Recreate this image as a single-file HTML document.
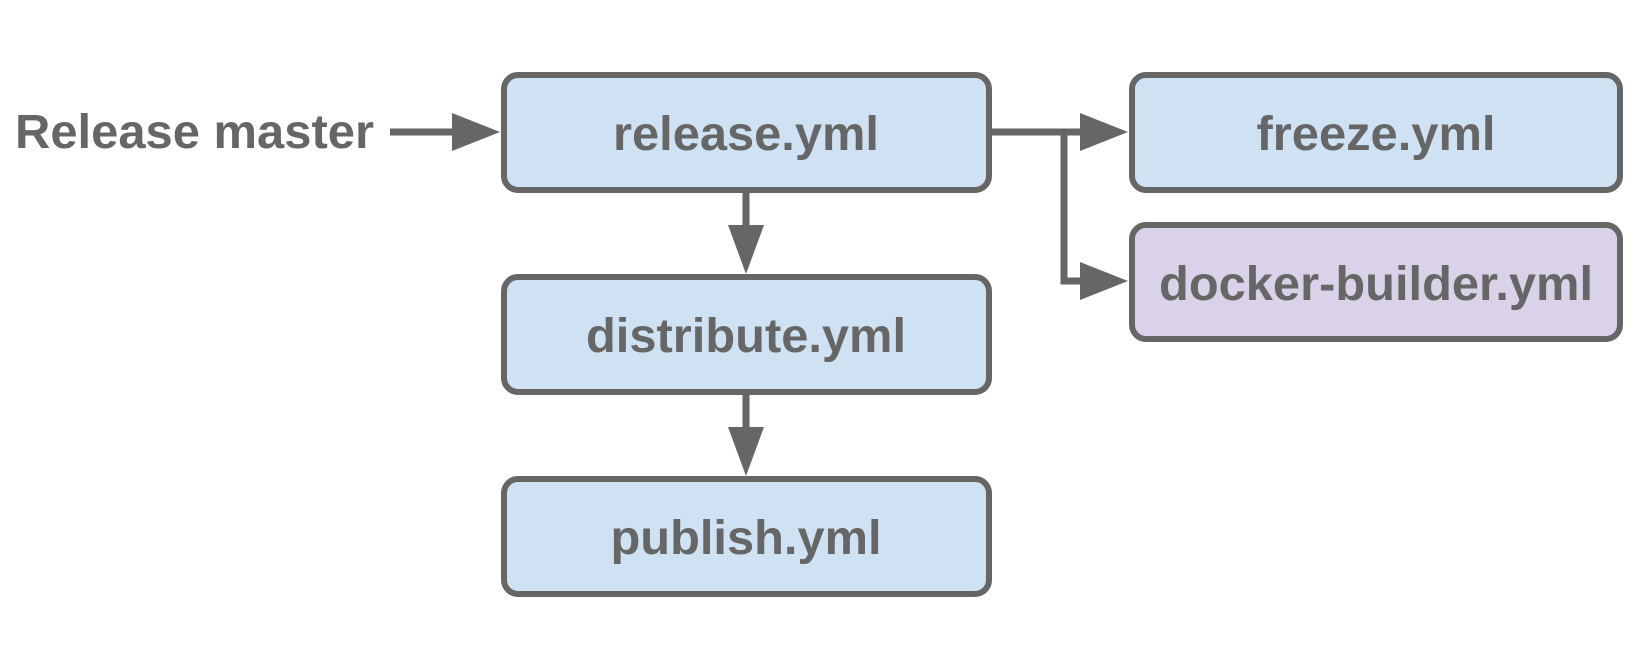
<!DOCTYPE html>
<html><head><style>
body{margin:0;width:1641px;height:655px;background:#fff;overflow:hidden}
svg text{font-family:"Liberation Sans",sans-serif;font-weight:bold;fill:#666;font-size:48px}
</style></head><body>
<svg width="1641" height="655" viewBox="0 0 1641 655">
<g stroke="#666" stroke-width="6">
<rect x="504" y="75" width="485" height="115" rx="14" fill="#cfe2f3"/>
<rect x="1132" y="75" width="488" height="115" rx="14" fill="#cfe2f3"/>
<rect x="1132" y="225" width="488" height="114" rx="14" fill="#d9d2e9"/>
<rect x="504" y="277" width="485" height="115" rx="14" fill="#cfe2f3"/>
<rect x="504" y="479" width="485" height="115" rx="14" fill="#cfe2f3"/>
<g fill="none" stroke-width="7">
<line x1="390" y1="132" x2="456" y2="132"/>
<line x1="991" y1="132" x2="1082" y2="132"/>
<polyline points="1064,132 1064,281 1082,281"/>
<line x1="746" y1="192" x2="746" y2="228"/>
<line x1="746" y1="394" x2="746" y2="430"/>
</g>
</g>
<g fill="#666">
<polygon points="452,113 500,132 452,151"/>
<polygon points="1080,113 1128,132 1080,151"/>
<polygon points="1080,262 1128,281 1080,300"/>
<polygon points="728,225 764,225 746,274"/>
<polygon points="728,427 764,427 746,476"/>
</g>
<text x="15" y="148" textLength="359" lengthAdjust="spacingAndGlyphs">Release master</text>
<g text-anchor="middle">
<text x="746" y="150" textLength="266" lengthAdjust="spacingAndGlyphs">release.yml</text>
<text x="1376" y="150" textLength="239" lengthAdjust="spacingAndGlyphs">freeze.yml</text>
<text x="1376" y="300" textLength="434" lengthAdjust="spacingAndGlyphs">docker-builder.yml</text>
<text x="746" y="352" textLength="320" lengthAdjust="spacingAndGlyphs">distribute.yml</text>
<text x="746" y="554" textLength="271" lengthAdjust="spacingAndGlyphs">publish.yml</text>
</g>
</svg>
</body></html>
